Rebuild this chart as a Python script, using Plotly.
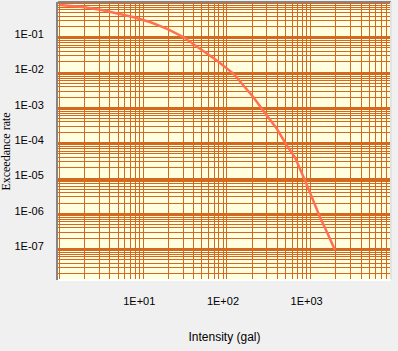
import plotly.graph_objects as go

# Data (hazard curve)
intensity_gal = [1.0, 1.9, 3.3, 4.8, 7.5, 12, 19, 30, 47.5, 75, 119, 157, 206, 298,
                 393, 517, 649, 854, 1028, 1291, 1623, 1950]
exceedance_rate = [0.82, 0.72, 0.58, 0.47, 0.376, 0.271, 0.176, 0.102, 0.049, 0.0223,
                   0.0094, 0.0044, 0.00204, 6.2e-4, 2.6e-4, 8.7e-5, 4.0e-5, 8.9e-6,
                   3.0e-6, 8.1e-7, 2.5e-7, 9.5e-8]

x_tick_vals = [1, 10, 100, 1000, 10000]
x_tick_text = ["", "1E+01", "1E+02", "1E+03", ""]
y_tick_vals = [1, 1e-1, 1e-2, 1e-3, 1e-4, 1e-5, 1e-6, 1e-7]
y_tick_text = ["", "1E-01", "1E-02", "1E-03", "1E-04", "1E-05", "1E-06", "1E-07"]

GRID = "#D2691E"
fig = go.Figure()
fig.add_trace(go.Scatter(x=intensity_gal, y=exceedance_rate, mode="lines",
                         line=dict(color="#FF7050", width=2.5), showlegend=False,
                         hoverinfo="skip"))

fig.update_layout(
    width=398, height=351,
    margin=dict(l=58, r=7, t=2, b=71),
    paper_bgcolor="#F0F0F0", plot_bgcolor="#FFFFE0",
    font=dict(family="Liberation Sans, Arial, sans-serif", size=11, color="black"),
    showlegend=False,
)
fig.update_xaxes(
    type="log", range=[-0.019, 3.96], automargin=False,
    tickmode="array", tickvals=x_tick_vals, ticktext=x_tick_text,
    showgrid=True, gridcolor=GRID, gridwidth=1,
    minor=dict(dtick="D1", showgrid=True, gridcolor=GRID, gridwidth=1),
    ticks="", zeroline=False, showline=False,
    ticklabelshift=-4, ticklabelstandoff=13,
    title=dict(text="Intensity (gal)", font=dict(family="Liberation Sans, Arial", size=12),
               standoff=26),
)
fig.update_yaxes(
    type="log", range=[-7.875, 0], automargin=False,
    tickmode="array", tickvals=y_tick_vals, ticktext=y_tick_text,
    showgrid=True, gridcolor=GRID, gridwidth=2,
    minor=dict(dtick="D1", showgrid=True, gridcolor=GRID, gridwidth=1),
    ticks="", zeroline=False,
    showline=True, linecolor="#858585", linewidth=2,
    ticklabelshift=-3, ticklabelstandoff=10,
)
# y-axis title (placed slightly below the plot centre, as in the reference)
fig.add_annotation(text="Exceedance rate", textangle=-90, showarrow=False,
                   xref="paper", yref="paper", x=-0.156, y=0.462,
                   xanchor="center", yanchor="middle",
                   font=dict(family="Liberation Serif, Times New Roman, serif", size=12, color="black"))
# sunken border: dark top, light right and bottom
fig.add_shape(type="line", xref="paper", yref="paper", x0=0, x1=1, y0=1, y1=1,
              line=dict(color="#858585", width=2), layer="above")
fig.add_shape(type="line", xref="paper", yref="paper", x0=1, x1=1, y0=0, y1=1,
              line=dict(color="#E3E3E3", width=2), layer="above")
fig.add_shape(type="line", xref="paper", yref="paper", x0=0, x1=1, y0=0, y1=0,
              line=dict(color="#FFFFFF", width=2), layer="above")

fig.write_html("out.html", config={"displayModeBar": False},
               post_script="document.body.style.margin='0px';")
